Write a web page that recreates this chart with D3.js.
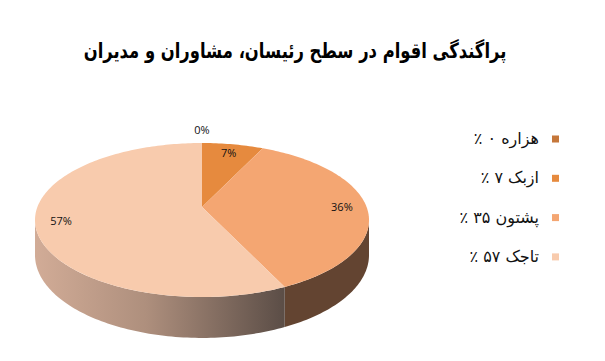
<!DOCTYPE html>
<html>
<head>
<meta charset="utf-8">
<script src="https://cdn.jsdelivr.net/npm/d3@7"></script>
<style>
  body { margin: 0; background: #fff; }
  svg { display: block; }
</style>
</head>
<body>
<div id="chart"></div>
<script>
// chart data
const titleText = "پراگندگی اقوام در سطح رئیسان، مشاوران و مدیران";
const groups = ["هزاره", "ازبک", "پشتون", "تاجک"];
const shares = [0, 7, 36, 57];
const legendNumbers = ["۰", "۷", "۳۵", "۵۷"];
const topColors = ["#C5773A", "#E68A3E", "#F4A672", "#F8CBAD"];

const width = 605, height = 361;

const svg = d3.select('#chart')
    .append('svg')
    .attr('width', width)
    .attr('height', height);

// title: squeezed horizontally so it spans about 420px like the original
svg.append('text')
    .attr('transform', 'translate(295,58) scale(0.78,1)')
    .attr('text-anchor', 'middle')
    .attr('direction', 'rtl')
    .style('font-family', '"DejaVu Sans", sans-serif')
    .style('font-weight', 'bold')
    .style('font-size', '21px')
    .text(titleText);

// perspective disc: apex at (cx, cy), tilt factor k
const cx = 202, cy = 207, a = 164.6, b = 74.8, k = 0.169, depth = 34;

function proj(theta, r, down) {
    const x3 = r * Math.sin(theta), z3 = r * Math.cos(theta);
    const w = 1 + k * z3;
    return [cx + a * x3 / w, cy + (-b * z3 + (down ? depth : 0)) / w];
}

const pie = d3.pie().sort(null).value(d => d)(shares);
const line = d3.line();

function rim(t0, t1, down) {
    const n = Math.max(2, Math.ceil((t1 - t0) / 0.02));
    return d3.range(n + 1).map(i => proj(t0 + (t1 - t0) * i / n, 1, down));
}

const defs = svg.append('defs');
const grad = defs.append('linearGradient')
    .attr('id', 'sideGrad')
    .attr('gradientUnits', 'userSpaceOnUse')
    .attr('x1', 34).attr('x2', 283).attr('y1', 0).attr('y2', 0);
grad.append('stop').attr('offset', 0).attr('stop-color', '#D2AC97');
grad.append('stop').attr('offset', 0.45).attr('stop-color', '#AE8F7D');
grad.append('stop').attr('offset', 1).attr('stop-color', '#5C4E47');

const sideColors = ["#8a5530", "#8a5a33", "#634431", "url(#sideGrad)"];

// visible outer wall lies between the two silhouette angles
const silR = Math.acos(-k), silL = 2 * Math.PI - Math.acos(-k);

const sides = svg.append('g');
pie.forEach((p, i) => {
    const t0 = Math.max(p.startAngle, silR), t1 = Math.min(p.endAngle, silL);
    if (t1 <= t0) return;
    const pts = rim(t0, t1, false).concat(rim(t0, t1, true).reverse());
    sides.append('path')
        .attr('d', line(pts) + 'Z')
        .attr('fill', sideColors[i]);
});

const tops = svg.append('g');
pie.forEach((p, i) => {
    if (p.endAngle - p.startAngle <= 0) return;
    const pts = [[cx, cy]].concat(rim(p.startAngle, p.endAngle, false));
    tops.append('path')
        .attr('d', line(pts) + 'Z')
        .attr('fill', topColors[i]);
});

// data labels
pie.forEach((p, i) => {
    const mid = (p.startAngle + p.endAngle) / 2;
    const pos = proj(mid, p.value === 0 ? 1.25 : 0.85, false);
    svg.append('text')
        .attr('x', pos[0])
        .attr('y', pos[1] + 4)
        .attr('text-anchor', 'middle')
        .style('font-family', '"Open Sans", "Liberation Sans", sans-serif')
        .style('font-size', '11px')
        .attr('fill', '#111')
        .text(p.value + '%');
});

// legend
const legend = svg.append('g');
groups.forEach((g, i) => {
    const y = 139 + i * 39.3;
    legend.append('rect')
        .attr('x', 552).attr('y', y - 3.5)
        .attr('width', 7).attr('height', 7)
        .attr('fill', topColors[i]);
    legend.append('text')
        .attr('x', 539)
        .attr('y', y + 5)
        .attr('direction', 'rtl')
        .attr('text-anchor', 'start')
        .style('font-family', '"DejaVu Sans", serif')
        .style('font-size', '16px')
        .attr('fill', '#111')
        .text(g + ' ' + legendNumbers[i] + ' ٪');
});
</script>
</body>
</html>
